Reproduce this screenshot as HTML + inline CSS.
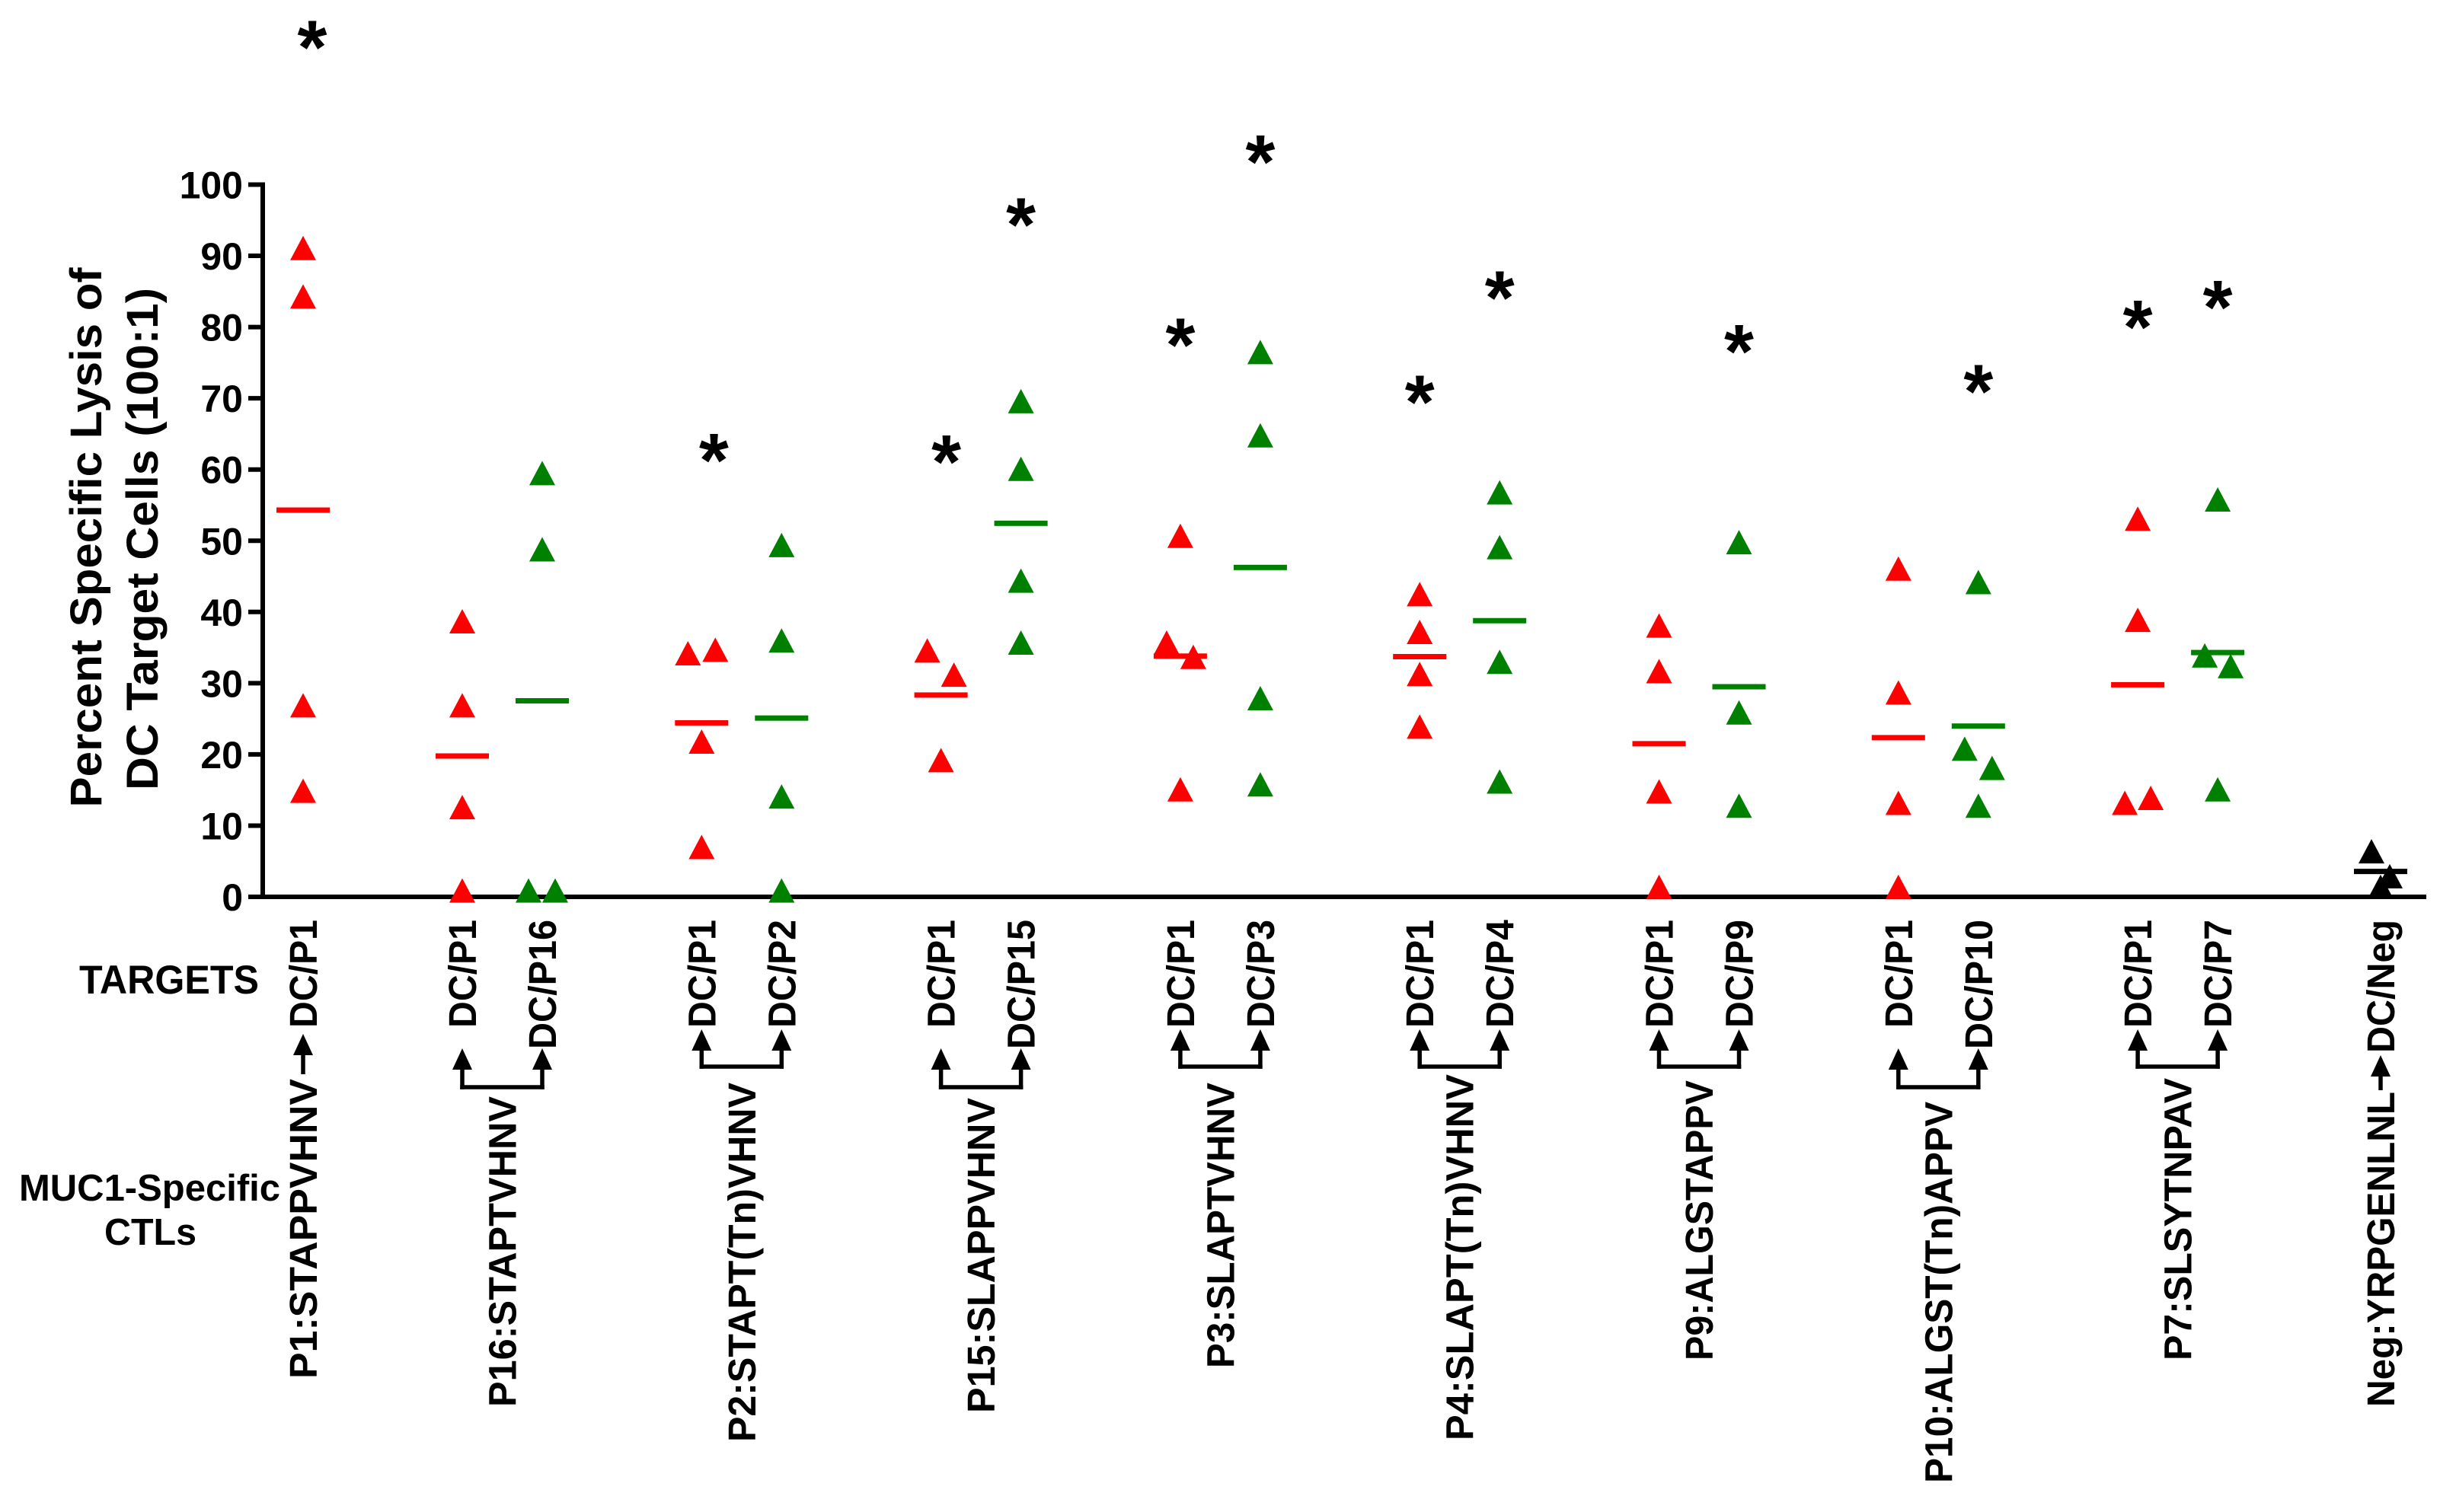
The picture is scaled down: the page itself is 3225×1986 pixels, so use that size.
<!DOCTYPE html>
<html><head><meta charset="utf-8"><style>
html,body{margin:0;padding:0;background:#fff;overflow:hidden;}
svg{display:block;}
text{font-family:"Liberation Sans",Arial,sans-serif;font-weight:bold;fill:#000;}
</style></head><body>
<svg id="chart" width="3225" height="1986" viewBox="0 0 3225 1986" xmlns="http://www.w3.org/2000/svg">
<g id="axes"></g>
<g id="marks"></g>
<g id="labels"></g>
<text x="133" y="706" font-size="58" text-anchor="middle" textLength="709" lengthAdjust="spacingAndGlyphs" transform="rotate(-90 133 706)">Percent Specific Lysis of</text>
<text x="207" y="708" font-size="58" text-anchor="middle" textLength="660" lengthAdjust="spacingAndGlyphs" transform="rotate(-90 207 708)">DC Target Cells (100:1)</text>
<text x="104" y="1305" font-size="53" textLength="236" lengthAdjust="spacingAndGlyphs">TARGETS</text>
<text x="25" y="1577" font-size="49" textLength="343" lengthAdjust="spacingAndGlyphs">MUC1-Specific</text>
<text x="137" y="1635" font-size="49" textLength="121" lengthAdjust="spacingAndGlyphs">CTLs</text>
</svg>
<script>
const groups = ['P1','P16','P2','P15','P3','P4','P9','P10','P7','Neg'];
const redValues = [
  [91.1,84.3,26.9,14.9],
  [38.7,26.9,12.6,0.9],
  [34.2,34.7,21.8,7.0],
  [34.6,31.2,19.2],
  [35.7,50.7,33.7,15.1],
  [42.5,37.2,31.3,23.9],
  [38.1,31.7,14.8,1.4],
  [46.1,28.7,13.2,1.4],
  [53.1,38.9,13.2,13.9],
  [6.4,2.9,1.4]
];
const greenValues = [
  null,
  [59.5,48.8,0.9,0.9],
  [49.4,36.0,14.1,0.9],
  [69.6,60.1,44.4,35.7],
  [76.5,64.8,27.9,15.8],
  [56.8,49.1,33.0,16.2],
  [49.8,25.9,12.8],
  [44.2,20.8,18.1,12.8],
  [55.8,33.9,32.4,15.1],
  null
];
const starRed = [121.6,null,63.6,63.4,79.8,71.8,null,null,82.3,null];
const starGreen = [null,null,null,96.7,105.5,86.4,78.9,73.3,85.1,null];
const yTicks = [0,10,20,30,40,50,60,70,80,90,100];
const targetLabels = [['DC/P1'],['DC/P1','DC/P16'],['DC/P1','DC/P2'],['DC/P1','DC/P15'],['DC/P1','DC/P3'],['DC/P1','DC/P4'],['DC/P1','DC/P9'],['DC/P1','DC/P10'],['DC/P1','DC/P7'],['DC/Neg']];
const ctlLabels = ['P1:STAPPVHNV','P16:STAPTVHNV','P2:STAPT(Tn)VHNV','P15:SLAPPVHNV','P3:SLAPTVHNV','P4:SLAPT(Tn)VHNV','P9:ALGSTAPPV','P10:ALGST(Tn)APPV','P7:SLSYTNPAV','Neg:YRPGENLNL'];

// presentation (not data): jitter offsets and label metrics
const redJitter = [[0,0,0,0],[0,0,0,0],[-18,18,0,0],[-18,17,0],[-18,0,17,0],[0,0,0,0],[0,0,0,0],[0,0,0,0],[0,0,-17,17],[-12,12,0]];
const greenJitter = [null,[0,0,-18,17],[0,0,0,0],[0,0,0,0],[0,0,0,0],[0,0,0,0],[0,0,0],[0,-18,18,0],[0,-17,17,0],null];
const ctlTop = [1417,1440,1422,1442,1422,1411,1419,1447,1416,1434];
const ctlLen = [394,408,472,414,375,481,368,501,371,414];

const NS='http://www.w3.org/2000/svg';
const Y0=1178, PXU=9.355;
function yScale(v){return Y0 - v*PXU;}
function colX(g, series){
  if(g===0) return 398;
  if(g===groups.length-1) return 3126;
  return 607 + (g-1)*314.3 + (series==='green'?105:0);
}
function mk(tag, parent, attrs){
  const e=document.createElementNS(NS,tag);
  for(const k in attrs) e.setAttribute(k,attrs[k]);
  parent.appendChild(e); return e;
}
const axes=document.getElementById('axes');
const marks=document.getElementById('marks');
const labels=document.getElementById('labels');

let yl=mk('line',axes,{x1:345,y1:yScale(100)-3,x2:345,y2:Y0+3,stroke:'#000','stroke-width':6});


let xl=mk('line',axes,{x1:342,y1:Y0,x2:3186,y2:Y0,stroke:'#000','stroke-width':6});


yTicks.forEach(t=>{
  const y=yScale(t);
  const tk=mk('line',axes,{x1:326,y1:y,x2:345,y2:y,stroke:'#000','stroke-width':6});
  
  
  const tl=mk('text',axes,{x:319,y:y+18,'font-size':50,'text-anchor':'end'});
  tl.textContent=String(t);
  
  
});

function tri(cx,cy,color){
  const p=mk('polygon',marks,{points:`${cx},${cy-16} ${cx-17},${cy+16} ${cx+17},${cy+16}`,fill:color});
  
  
}
function meanLine(cx,vals,color){
  const m=vals.reduce((a,b)=>a+b,0)/vals.length;
  const l=mk('rect',marks,{x:cx-35,y:yScale(m)-3.5,width:70,height:7,fill:color});
  
  
}
function star(cx,v){
  const s=mk('text',marks,{x:cx,y:yScale(v)+56,'font-size':100,'text-anchor':'middle'});
  s.textContent='*';
  
  
}
groups.forEach((g,i)=>{
  const rc = (i===groups.length-1)?'#000':'#ff0000';
  const rx=colX(i,'red');
  meanLine(rx,redValues[i],rc);
  redValues[i].forEach((v,j)=>tri(rx+redJitter[i][j],yScale(v),rc));
  if(greenValues[i]){
    const gx=colX(i,'green');
    meanLine(gx,greenValues[i],'#008000');
    greenValues[i].forEach((v,j)=>tri(gx+greenJitter[i][j],yScale(v),'#008000'));
  }
  const sxo = i===0?12:(i===2?16:(i===3?7:0));
  if(starRed[i]!=null) star(rx+sxo,starRed[i]);
  if(starGreen[i]!=null) star(colX(i,'green'),starGreen[i]);
});

function rotText(x,topY,str,len,name){
  const t=mk('text',labels,{x:x,y:topY,'font-size':51,'text-anchor':'end',textLength:len,lengthAdjust:'spacingAndGlyphs',transform:`rotate(-90 ${x} ${topY})`});
  t.textContent=str;
  
  
}
function arrowHead(x,apex){
  const a=mk('polygon',labels,{points:`${x},${apex} ${x-13},${apex+28} ${x+13},${apex+28}`,fill:'#000'});
  
  
}
function seg(x1,y1,x2,y2){
  const l=mk('line',labels,{x1:x1,y1:y1,x2:x2,y2:y2,stroke:'#000','stroke-width':5.5});
  
  
}
groups.forEach((g,i)=>{
  const tl=targetLabels[i];
  const long = tl.some(s=>s.length>5 && s!=='DC/Neg');
  const neg = i===groups.length-1;
  if(tl.length===1){
    const x=colX(i,'red');
    const len = neg?175:142;
    rotText(x+18,1208,tl[0],len,'target-label');
    const apex = neg?1386:1358, end = neg?1432:1411;
    arrowHead(x,apex); seg(x,apex+20,x,end);
    rotText(x+18,ctlTop[i],ctlLabels[i],ctlLen[i],'ctl-label');
  } else {
    const rx=colX(i,'red'), gx=colX(i,'green');
    rotText(rx+18,1208,tl[0],142,'target-label');
    rotText(gx+18,1208,tl[1],tl[1].length>5?170:142,'target-label');
    const apex = long?1377:1352, by = long?1428:1401;
    arrowHead(rx,apex); arrowHead(gx,apex);
    seg(rx,apex+20,rx,by+2.75); seg(gx,apex+20,gx,by+2.75);
    seg(rx-2.75,by,gx+2.75,by);
    rotText((rx+gx)/2+18,ctlTop[i],ctlLabels[i],ctlLen[i],'ctl-label');
  }
});
</script>
</body></html>
